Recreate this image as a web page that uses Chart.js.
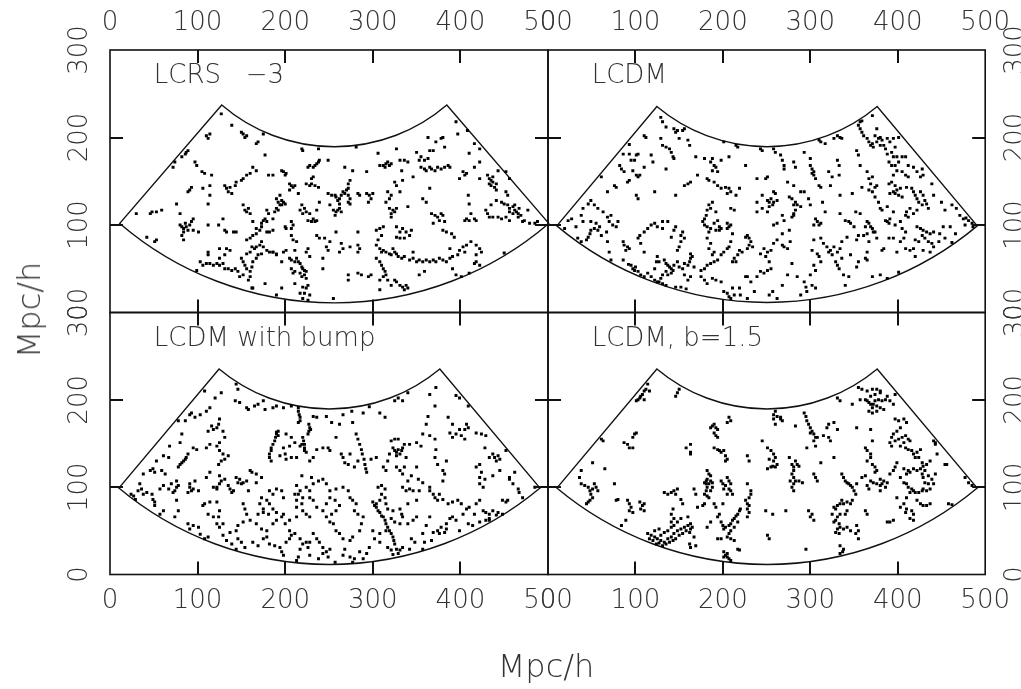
<!DOCTYPE html>
<html><head><meta charset="utf-8">
<script src="https://cdn.jsdelivr.net/npm/chart.js@4.4.1/dist/chart.umd.min.js"></script>
<style>
html,body{margin:0;padding:0;background:#fff;}
#wrap{position:relative;width:1021px;height:689px;overflow:hidden;background:#fff;}
#wrap canvas{position:absolute;left:0;top:0;}
.axt{position:absolute;font-family:'DejaVu Sans',sans-serif;font-weight:200;font-size:32px;color:#333;white-space:nowrap;line-height:1;}
</style></head><body>
<div id="wrap">
<canvas id="c0" width="1021" height="689"></canvas>
<canvas id="c1" width="1021" height="689"></canvas>
<canvas id="c2" width="1021" height="689"></canvas>
<canvas id="c3" width="1021" height="689"></canvas>
<div class="axt" id="xt" style="left:546px;top:666px;transform:translate(-50%,-50%);">Mpc/h</div>
<div class="axt" id="yt" style="left:29px;top:310px;transform:translate(-50%,-50%) rotate(-90deg);">Mpc/h</div>
</div>
<script>
const xTickValues = [0,100,200,300,400,500];
const yTickValues = [0,100,200,300];
const panelTitles = ['LCRS   \u22123','LCDM','LCDM with bump','LCDM, b=1.5'];

// survey wedge outlines (data units): centre, inner/outer radius, half opening angle (deg)
const wedgeLCRS = {cx:256, cy:386.5, rIn:375.5, rOut:197, halfAngle:40.7};
const wedgeSim  = {cx:250.5, cy:385.5, rIn:374, rOut:196, halfAngle:40};

const lcrsPoints = [[127,227],[110,202],[114,204],[112,199],[139,214],[152,204],[154,200],[150,206],[156,202],[167,193],[169,195],[175,204],[177,180],[89,185],[87,183],[86,181],[82,178],[72,166],[74,172],[97,172],[99,168],[105,161],[108,159],[116,157],[114,145],[93,143],[91,140],[89,138],[106,142],[114,134],[112,124],[76,124],[80,113],[59,117],[53,115],[48,115],[46,113],[30,113],[42,86],[53,83],[51,81],
[80,100],[82,98],[84,96],[86,102],[87,98],[91,100],[93,104],[95,107],[95,94],[84,92],[82,88],[84,83],[89,94],[101,92],[112,100],[124,100],[129,107],[131,94],[133,92],[141,92],[144,92],
[152,123],[154,117],[156,115],[158,119],[160,113],[163,104],[173,102],[175,105],[177,107],[179,104],[167,96],[171,94],[173,98],[160,85],[156,83],[163,88],[167,90],[179,92],[182,92],[186,94],
[162,75],[165,73],[167,75],[171,77],[160,69],[156,67],[173,81],[175,75],[179,71],[182,69],[186,69],[190,67],[173,67],[169,66],[167,62],[163,58],[162,52],[160,47],[160,41],[158,37],[162,28],
[150,62],[152,58],[154,54],[156,50],[152,43],[148,41],[146,47],[143,50],[139,48],[135,50],[131,50],[129,56],[125,54],[122,56],[118,54],[114,56],[110,56],[106,54],[103,58],[99,48],[112,69],[112,66],[133,73],[137,71],[125,73],[131,66],[125,62],
[205,62],[207,60],[211,58],[213,62],[215,58],[217,56],[219,52],[220,50],[222,48],[224,47],[222,43],[219,41],[217,45],[224,39],[226,31],[224,28],[220,29],[228,20],[226,14],[222,22],[211,47],[207,50],[209,45],[196,58],[190,66],[186,69],[198,69],[201,71],[211,71],[226,73],[224,69],[228,64],[211,33],[196,28],[190,20],[177,33],[163,28],[217,22],[220,16],[255,16],
[243,62],[243,50],[249,71],[247,75],[251,81],[236,88],[239,85],[245,85],[258,92],[207,88],[209,83],[213,81],[207,104],[209,100],[207,96],[200,98],[201,96],
[190,130],[192,126],[194,123],[196,128],[190,119],[188,115],[192,117],[198,126],[194,134],[196,123],[200,124],[179,117],[181,113],[186,107],
[198,161],[200,157],[201,159],[196,162],[186,157],[181,157],[167,162],[163,166],[160,159],[156,157],[152,153],[150,151],[144,149],[143,145],[137,143],[133,142],[131,145],[135,138],[139,136],
[205,147],[207,145],[209,143],[211,145],[205,140],[215,136],[219,123],[217,117],[222,119],[224,115],[220,113],[228,113],[232,107],[226,105],[230,104],[234,104],[236,105],
[224,147],[228,145],[230,147],[234,145],[238,143],[232,155],[230,153],[226,166],[228,168],[232,166],[236,170],[238,172],[239,174],[234,168],[219,187],[220,185],[238,187],[249,174],
[249,136],[253,134],[257,134],[258,132],[262,130],[264,134],[260,128],[262,124],[262,119],[260,117],[258,115],[264,115],[257,111],[255,117],[239,126],[236,117],[251,123],
[266,138],[268,136],[270,140],[272,134],[274,130],[272,126],[274,124],[272,142],[272,147],[274,151],[277,162],[268,166],[281,189],[283,136],[285,134],[293,136],[296,134],[300,136],[298,130],[295,126],[293,161],[283,92],[264,79],[262,69],[266,73],[274,75],[283,77],[285,73],[283,69],[272,43],[272,37],[283,45],[287,43],[295,41],[298,43],
[306,182],[308,168],[312,168],[314,166],[315,170],[317,172],[319,168],[321,170],[327,187],[331,174],[336,174],[340,172],[333,162],[327,145],[325,149],[334,151],[315,126],[319,130],[321,134],[317,138],[319,119],[321,113],[323,117],[325,115],[321,109],[327,119],[340,121],[346,155],
[350,183],[355,178],[359,174],[363,176],[365,166],[355,166],[359,164],[361,162],[367,164],[371,162],[374,166],[378,164],[382,166],[386,168],[388,166],[353,174],[365,185],[369,185],[363,200],[372,195],[378,199],[382,189],[380,200],[395,218],[397,204],[408,208],
[410,182],[416,193],[422,187],[422,172],[416,166],[407,159],[403,161],[431,157],[433,153],[435,151],[437,149],[435,145],[439,143],[441,140],[437,155],[433,147],[441,147],[443,162],[452,138],[454,134],
[441,128],[447,126],[450,124],[454,123],[456,119],[460,121],[462,117],[464,115],[466,113],[460,113],[456,115],[462,123],[467,119],[466,109],[469,111],[477,117],[473,105],[479,102],[488,104],[485,102],[471,104],
[410,124],[409,134],[412,113],[407,107],[405,105],[410,105],[416,107],[418,105],[429,117],[431,113],[433,109],[437,109],[443,109],[447,107],[452,109],[456,105],[435,123],
[367,113],[371,111],[374,109],[376,105],[378,113],[380,94],[384,92],[390,90],[393,86],[369,102],[357,130],[361,126],[344,94],[338,92],[334,96],[331,92],[327,86],[331,85],[336,85],[342,88],[327,98],
[304,94],[308,96],[312,98],[310,88],[306,83],[304,77],[308,73],[310,69],[312,71],[315,69],[319,67],[321,66],[323,73],[325,69],[327,67],[329,64],[333,62],[336,64],
[342,60],[346,62],[350,58],[353,60],[357,58],[361,60],[365,58],[369,60],[372,58],[376,62],[380,60],[384,58],[388,62],[391,64],[346,69],
[388,73],[399,71],[403,75],[407,77],[412,81],[418,77],[422,73],[424,69],[418,66],[418,58],[416,56],[405,69],[397,66],[391,50],[395,43],[401,41],[410,45],[422,54],[450,68],
[304,62],[308,58],[310,54],[312,50],[314,47],[315,43],[312,41],[308,37],[317,37],[321,31],[325,37],[327,35],[331,31],[334,29],[338,31],[340,28],[336,26],[353,43],[359,47],[308,26],[382,104],[380,111],[399,153],[405,157],[365,142],[331,138],[452,161],[456,153],[422,153]];

const lcdmPoints = [[129,223],[131,218],[110,202],[112,200],[135,212],[144,210],[146,206],[148,208],[154,208],[156,210],[150,199],[129,199],[131,191],[135,189],[139,187],[141,183],[143,178],[144,176],[162,191],[160,197],[93,192],[93,181],[95,174],[99,174],[101,180],[103,181],[86,181],[82,168],[84,164],[87,161],[97,162],[101,157],[103,155],[105,157],[110,166],[93,151],[91,149],[76,145],[78,143],[68,138],[61,155],[135,164],[118,180],[120,172],[101,134],[103,130],[122,138],[146,134],[156,145],[160,147],[163,149],
[171,157],[169,178],[179,176],[186,172],[190,168],[188,162],[194,161],[192,166],[188,176],[198,174],[207,178],[182,153],[184,151],[190,149],[194,145],[198,142],[203,143],[207,142],[209,138],[205,136],[226,168],[217,189],[215,191],[201,195],[243,187],[245,185],[258,187],[260,183],
[266,180],[268,174],[270,168],[270,164],[281,172],[283,166],[293,183],[300,176],[300,168],[302,164],[304,161],[304,157],[306,153],[302,159],[310,197],[312,195],[317,193],[327,199],[331,202],[334,200],[336,199],[321,161],[325,155],[333,157],[331,174],[333,168],[310,145],[312,143],[323,145],[239,153],[251,155],[249,153],[274,149],[281,145],[289,138],[293,138],
[258,138],[260,136],[255,130],[251,128],[253,126],[258,126],[262,128],[257,123],[253,121],[251,115],[245,134],[239,126],[276,132],[279,130],[283,126],[281,123],[285,123],[289,121],[283,117],[281,113],[279,109],[270,105],[268,111],[298,130],[300,123],[306,107],[308,104],[304,100],[310,100],[312,102],[314,126],[317,115],
[334,134],[348,136],[359,143],[367,140],[371,138],[374,132],[378,126],[380,119],[382,117],[388,121],[386,105],[388,104],[390,102],[391,107],[395,115],[397,100],[334,113],[340,105],[344,104],[346,102],[350,98],[352,115],[357,113],[365,104],[367,102],[369,98],[371,96],[374,92],[363,98],[365,90],[361,88],[355,88],[353,83],[367,153],[369,147],[374,143],[376,145],[371,155],[357,168],[365,161],
[357,218],[359,219],[371,225],[355,214],[357,210],[359,206],[361,202],[365,199],[367,195],[369,191],[371,193],[372,189],[376,195],[378,199],[380,200],[382,197],[384,191],[386,187],[374,202],[376,210],[380,191],[388,199],[391,195],[395,199],[397,189],[393,183],[395,178],[399,178],[388,181],[390,172],[393,168],[397,168],[401,172],[405,178],[409,178],[401,200],[353,185],[355,180],
[412,168],[418,166],[422,161],[426,155],[412,155],[409,157],[405,161],[399,162],[395,157],[393,149],[397,145],[399,140],[397,136],[395,138],[401,134],[403,142],[391,136],[390,147],[405,132],
[410,143],[416,142],[418,138],[420,134],[422,130],[424,126],[426,138],[429,134],[431,128],[433,124],[435,119],[428,123],[422,117],[418,113],[414,119],[410,115],[409,111],[412,109],
[439,147],[441,134],[450,126],[454,117],[462,123],[467,119],[471,111],[478,108],[481,105],[485,102],[486,98],[477,100],[475,107],[429,157],[428,164],
[422,98],[426,96],[429,94],[433,92],[437,90],[441,92],[428,88],[431,85],[435,81],[439,79],[424,81],[420,83],[418,73],[429,71],[437,69],[441,75],[447,81],[454,85],[448,90],[452,98],[460,98],[466,90],[462,80],
[403,104],[405,96],[409,92],[407,85],[403,81],[409,73],[399,69],[395,85],[390,85],[384,73],[382,71],[376,85],[372,92],[367,81],[365,69],[363,62],[365,60],[371,41],[380,43],[388,39],[401,46],[414,71],[420,64],
[342,86],[336,81],[334,73],[331,69],[327,75],[323,71],[325,66],[329,58],[331,54],[333,50],[336,62],[338,43],[340,31],[344,41],[353,52],[355,58],[346,66],
[312,85],[315,79],[319,75],[321,69],[304,83],[302,71],[308,67],[310,64],[312,58],[304,54],[306,48],[300,43],[302,31],[306,28],[293,35],[296,24],[289,20],[295,29],[285,41],[279,56],[274,43],[268,31],[262,16],[257,24],[253,20],
[277,81],[274,73],[270,75],[268,77],[262,83],[258,79],[255,71],[251,69],[247,73],[243,67],[249,64],[253,58],[255,50],[251,48],[247,45],[243,47],[239,41],[236,24],[232,35],[228,41],[226,41],
[228,88],[230,85],[232,81],[230,77],[234,75],[228,73],[226,86],[222,69],[219,71],[217,66],[213,62],[211,58],[215,58],[207,75],[258,100],[262,102],[268,90],[276,94],[281,111],[239,115],[245,119],
[211,90],[209,81],[205,73],[201,69],[198,66],[194,60],[190,58],[186,56],[182,54],[179,50],[175,48],
[205,102],[207,98],[209,100],[205,96],[198,96],[196,94],[192,94],[186,96],[184,92],[182,98],[179,100],[177,104],[179,107],[181,111],[182,117],[184,123],[186,119],[188,126],[192,115],[194,105],[190,102],[196,98],[213,117],[215,134],[219,142],[209,119],[182,85],[186,79],[184,73],[190,69],[188,66],
[34,85],[38,81],[44,83],[46,86],[48,90],[49,94],[53,96],[57,94],[59,98],[61,88],[67,92],[68,81],[70,104],[68,109],[72,111],[63,115],[57,119],[53,123],[49,128],[46,124],[40,119],[38,111],[40,104],[49,104],[55,102],[23,105],[27,107],[32,98],[19,96],
[74,100],[78,98],[80,104],[86,81],[87,77],[91,75],[93,73],[89,71],[86,60],[92,55],[100,52],[95,54],[97,50],[99,48],[103,47],[106,43],[110,41],[114,45],[118,41],[122,50],[124,58],[127,58],[125,64],[110,69],[106,79],[103,85],[105,88],[110,92],[114,96],[118,100],[122,102],[125,98],[131,96],[131,104],[137,104],
[133,60],[135,56],[137,54],[139,52],[141,50],[143,48],[135,47],[131,43],[129,39],[127,35],[137,43],[141,45],[144,54],[148,58],[150,52],[154,50],[156,56],[160,54],[162,58],[163,62],[165,64],[163,67],[167,52],[156,43],[160,37],[163,41],[152,29],[158,27],[146,29],[148,71],[150,75],[152,81],[156,85],[152,88],[154,92],[146,98],[144,94],[141,86],
[175,41],[179,37],[182,33],[188,39],[192,37],[198,35],[201,24],[205,22],[207,18],[211,28],[213,20],[219,28],[220,20],[228,16],[209,16],[70,69],[72,60],[125,35],[131,33],[135,31],[122,37]];

const bumpPoints = [[108,210],[127,208],[144,218],[146,212],[143,199],[148,197],[156,191],[158,189],[165,193],[169,195],[175,199],[177,189],[186,191],[190,193],[198,191],[207,193],
[120,202],[114,191],[110,187],[103,183],[97,180],[91,183],[93,185],[86,176],[78,176],
[125,178],[124,172],[122,168],[118,166],[116,170],[112,164],[129,164],[131,157],[125,151],[122,147],[114,149],[110,145],[125,142],[129,138],[131,132],[135,136],[127,130],[124,126],
[82,161],[80,151],[68,147],[61,136],[67,134],[95,145],[99,143],[89,138],[87,134],[86,132],[84,130],[82,128],[80,126],[78,123],
[53,130],[49,121],[46,119],[51,117],[59,119],[63,115],[38,115],[34,104],[36,98],[32,96],[27,90],[24,92],[29,86],[38,92],[42,94],[48,92],[49,86],[51,83],[51,79],[57,98],[61,102],[67,98],[72,94],[74,96],[76,100],[78,102],[70,104],[76,107],
[91,100],[93,96],[95,98],[101,96],[89,94],[91,104],[97,107],[110,111],[114,117],[118,100],[122,98],[125,104],[127,107],[131,109],[125,113],[122,100],
[61,73],[57,69],[74,66],[78,73],[76,85],[89,58],[95,56],[101,54],[91,52],[103,46],[108,41],[112,43],[106,79],[108,81],[114,83],[122,83],[112,69],[118,66],[124,66],[125,73],
[135,102],[137,98],[139,94],[141,96],[144,111],[146,105],[148,109],[150,104],[152,105],[156,107],[160,119],[162,117],[167,115],[173,111],[167,105],[158,96],[152,81],[154,75],[156,69],[160,62],[152,60],[146,56],[144,50],[146,41],[150,37],[154,31],[144,29],[139,35],[133,39],[129,45],[137,48],[129,58],[125,54],[122,58],
[169,69],[175,71],[181,69],[190,71],[198,69],[196,66],[190,62],[186,58],[179,50],[173,52],[167,58],[163,37],[169,33],[175,41],[179,43],[182,35],[188,33],[194,31],[196,26],[198,22],[201,37],[205,41],[207,45],[211,47],[217,41],[220,35],[224,37],[226,31],[228,37],[217,29],[215,20],[213,16],[228,22],[238,18],[243,24],[251,29],
[215,191],[215,187],[216,183],[217,180],[217,176],[215,174],
[192,164],[190,161],[189,157],[188,153],[186,149],[184,145],[184,142],[182,138],[182,134],[184,130],[190,163],[192,159],
[227,172],[228,168],[227,164],[226,161],[229,166],
[220,157],[221,153],[222,149],[222,145],[222,142],[224,140],[219,149],[217,147],
[201,161],[207,157],[211,151],[205,147],[198,145],[200,138],[194,136],[201,132],[207,134],[213,134],[236,143],[243,145],[251,142],[232,134],[228,130],
[236,180],[232,181],[247,181],[253,174],[262,172],[266,183],[277,174],[276,187],[289,185],[296,192],[308,185],[314,180],[325,199],[329,202],[334,199],[340,208],
[281,161],[283,155],[285,149],[287,143],[288,138],[290,132],[291,126],[292,121],[293,117],
[258,157],[249,145],[264,138],[274,138],[266,134],[268,128],[272,126],[279,123],[283,130],[298,132],[304,134],[312,123],[315,119],[317,130],
[321,153],[325,155],[329,155],[323,145],[325,142],[327,140],[329,143],[331,138],[333,142],[334,145],[327,136],[319,138],[336,149],
[342,149],[350,151],[355,147],[338,134],[336,123],[331,119],[327,123],[334,115],[340,107],[344,113],[350,123],[352,109],[357,105],[365,100],[353,96],
[363,181],[365,206],[372,214],[371,193],[361,172],[357,161],[365,159],[371,155],[372,143],[371,134],[374,126],[380,119],[384,130],[386,180],[388,162],[391,157],[395,161],[399,166],[401,159],[405,166],[407,172],[409,168],[405,155],[399,202],[409,193],[391,172],[395,205],
[418,162],[424,161],[429,159],[428,145],[437,138],[439,134],[443,136],[445,132],[441,130],[433,134],[422,126],[418,123],[424,117],[422,111],[428,109],[422,104],[426,100],[437,113],[445,119],[452,142],[456,111],[462,117],[460,104],[466,98],[467,94],[456,109],[485,100],[471,88],
[365,96],[369,92],[371,88],[374,85],[376,92],[380,86],[386,81],[391,83],[397,85],[401,81],[407,75],[410,77],[416,69],[418,81],[422,85],[426,73],[429,71],[433,69],[437,73],[443,71],[448,69],[452,83],[441,68],[433,64],[422,60],[414,56],[409,58],[403,69],[395,62],[391,66],[388,64],[384,58],[378,54],[374,50],[369,48],[376,47],[382,48],[384,52],[399,50],[365,66],[361,56],[357,47],[359,37],[357,29],[367,39],
[334,100],[338,96],[342,98],[346,96],[350,85],[340,81],[331,75],[333,69],[334,66],[340,58],[346,62],[350,66],[344,41],[348,37],[342,29],
[300,83],[302,79],[304,77],[306,73],[308,71],[310,67],[312,66],[314,62],[315,58],[317,54],[319,50],[321,47],[323,43],[324,39],[325,35],
[306,100],[310,102],[314,98],[310,92],[314,88],[308,85],[304,81],[315,81],[317,75],[323,73],[321,64],[325,60],[331,58],[315,50],[308,47],[300,50],[302,41],[308,37],[317,31],[321,28],[327,29],[331,28],[334,31],[329,24],[323,23],
[266,100],[272,96],[274,88],[277,85],[281,81],[279,73],[283,69],[289,66],[287,58],[285,50],[277,43],[274,39],[266,41],[262,47],[258,50],[255,58],[251,60],[247,66],[253,69],[258,73],[262,79],[257,85],[251,88],[247,81],[243,73],[236,77],[232,85],[228,88],[220,88],[219,81],[213,85],[215,92],[224,100],[228,96],[232,104],[238,107],[243,109],[247,104],[251,96],[258,98],
[219,113],[230,111],[213,102],[217,96],[211,92],[213,77],[220,73],[224,69],[228,66],[213,66],[205,62],[200,58],[205,50],
[182,96],[186,92],[190,98],[196,96],[198,88],[182,81],[179,85],[173,88],[171,81],[175,75],[186,75],
[232,47],[236,41],[239,37],[243,31],[247,26],[249,20],[257,14],[266,22],[274,20],[279,18],[285,26],[296,31],[293,24],[289,18],[277,14],[268,29],
[380,107],[382,115],[448,85],[454,85],[433,62],[429,62]];

const biasPoints = [[114,218],[112,212],[110,210],[108,206],[106,204],[105,202],[103,200],[101,199],[110,200],[116,210],[150,212],[148,208],[146,204],[101,162],[99,161],[97,157],[87,151],[91,149],[93,145],[97,145],[61,155],[63,153],[51,128],[65,121],
[38,119],[36,111],[38,104],[42,102],[46,100],[48,96],[49,92],[51,88],[48,85],[46,83],[44,81],[53,104],[55,100],[51,98],[57,96],[76,104],[80,86],[78,85],
[91,85],[93,81],[95,77],[93,73],[97,71],[105,83],[108,79],[110,81],[106,75],[110,73],[89,62],[84,56],
[114,47],[118,45],[122,43],[125,41],[129,39],[133,37],[137,41],[141,43],[144,47],[148,50],[152,52],[156,54],[160,56],[163,52],[162,48],[158,50],[154,47],[150,45],[146,41],[143,39],[139,37],[135,35],[131,33],[127,36],[124,35],[120,39],[129,45],[133,48],[137,50],[141,54],[144,56],[148,60],[152,64],[144,64],[141,60],[160,66],[163,58],[165,54],[167,43],[162,35],[163,31],[169,33],[127,52],[122,50],[116,41],
[133,94],[137,92],[141,94],[144,96],[148,98],[146,92],[152,86],[154,81],[143,75],[141,69],
[158,145],[163,149],[163,140],[163,138],[186,168],[188,170],[190,172],[192,168],[190,162],[192,159],[194,157],[194,166],[207,180],[209,176],[205,174],
[190,145],[194,143],[196,142],[198,140],[201,142],[203,136],[205,132],[203,130],[228,136],[230,130],
[182,119],[184,115],[186,113],[182,109],[181,107],[179,105],[181,104],[184,104],[186,107],[188,105],[182,100],[181,96],[179,92],[182,90],[184,88],[186,96],[188,100],
[167,98],[169,92],[179,81],[177,79],[171,77],
[198,107],[200,104],[203,102],[205,111],[207,107],[209,104],[207,98],[209,96],[211,92],[205,92],[201,98],
[190,81],[192,77],[196,69],[194,66],[198,60],[200,56],[201,52],[203,54],[207,56],[209,58],[211,62],[213,64],[215,67],[217,69],[219,73],[220,75],[217,60],[213,54],[209,50],[207,47],[205,43],[209,41],[213,39],[217,29],[219,28],[198,41],[194,41],[186,60],[182,54],[200,81],
[201,26],[203,22],[205,20],[207,18],[201,20],[209,16],[205,24],
[226,85],[228,81],[230,79],[228,75],[230,71],[228,66],[230,88],[232,92],[228,104],[232,96],
[249,73],[257,69],[272,73],[251,45],[253,41],
[245,153],[251,145],[255,142],[258,138],[260,134],[258,130],[262,126],[257,124],[255,123],[251,121],[260,123],[253,132],
[260,187],[258,183],[262,181],[266,180],[268,176],[258,178],[260,172],[266,178],
[276,134],[279,126],[281,123],[283,130],[285,126],[287,124],[281,119],[279,115],[281,111],[283,107],[281,104],[279,100],[281,96],[287,107],[291,105],[277,107],
[283,170],[293,185],[295,181],[296,176],[298,172],[300,168],[302,164],[304,161],[306,157],[304,153],[308,157],[300,162],[306,147],[296,145],
[315,159],[321,157],[323,153],[319,168],[321,172],[327,174],[331,166],[327,134],[312,128],[304,115],[306,111],[308,107],
[298,73],[302,69],[304,62],[300,66],[295,29],
[336,115],[338,111],[340,107],[342,105],[344,104],[346,102],[348,100],[350,96],[352,92],[353,104],
[327,77],[329,75],[331,79],[334,81],[336,85],[338,81],[342,83],[346,81],[348,85],[342,73],[340,69],[334,69],[331,66],[329,62],[333,58],[334,54],[331,52],[329,48],[333,47],[338,52],[342,54],[346,50],[353,56],[355,50],[352,47],[355,41],[334,33],[338,29],[334,24],[337,26],[325,69],[327,60],
[363,73],[365,69],
[365,102],[367,98],[369,107],[372,105],[376,104],[380,102],[384,107],[388,105],[386,100],[380,96],[374,117],[376,119],[380,109],[382,104],[363,113],[359,111],
[363,145],[365,142],[369,138],[369,134],[365,130],[371,126],[374,123],[371,153],[369,166],[353,168],
[355,214],[359,212],[365,210],[371,212],[376,212],[380,208],[374,206],[369,204],[363,200],[365,199],[367,197],[369,195],[372,195],[376,193],[380,191],[384,189],[371,191],[367,187],[378,200],[382,199],[386,200],[391,199],[395,195],[397,206],[388,204],[357,200],[371,185],[376,187],[380,210],[374,199],[331,202],[334,199],[348,195],
[397,178],[401,176],[407,178],[410,174],[403,168],[399,164],[395,161],[393,157],[391,151],[393,147],[397,153],[401,155],[405,157],[409,159],[412,155],[414,153],[407,151],[403,147],[409,145],[412,143],[416,142],[418,138],[420,134],[422,140],[426,143],[424,134],[428,128],[429,124],[433,126],[437,130],[431,119],[426,121],[422,119],[418,121],[414,117],[412,119],[410,115],[407,121],[399,128],[397,123],[395,119],[391,115],[403,111],[407,105],[410,104],[412,100],[416,98],[418,96],[420,94],[424,94],[428,96],[429,98],[433,96],[437,98],[441,104],[435,104],[431,105],[429,111],[428,115],[435,113],[439,109],[443,115],[445,138],[443,149],[441,153],[454,126],[414,94],[410,88],[407,81],[410,75],[416,73],[418,69],[409,71],[403,77],[399,88],[422,85],[426,81],[429,79],[433,79],[437,81],[418,62],[414,64],[395,62],[391,60],[388,60],
[456,126],[443,151],[477,111],[481,105],[485,102],[458,81],[462,80]];

// ---- layout (pixels) ----
const W = 1021, H = 689;
const PX_L = 110, PX_M = 548, PX_R = 985.5, PX_T = 50, PX_MID = 312.5, PX_B = 574.5;
const FONT = {family:"'DejaVu Sans', sans-serif", size:26, weight:'200'};
const INK = '#111';
const TICK_LEN = 13;

const decor = {
  id:'decor',
  beforeDatasetsDraw(chart, args, o){
    const {ctx, scales:{x, y}} = chart;
    const w = o.wedge;
    const sx = Math.abs(x.getPixelForValue(1) - x.getPixelForValue(0));
    const sy = Math.abs(y.getPixelForValue(1) - y.getPixelForValue(0));
    const cx = x.getPixelForValue(w.cx), cy = y.getPixelForValue(w.cy);
    const a0 = (90 - w.halfAngle) * Math.PI / 180, a1 = (90 + w.halfAngle) * Math.PI / 180;
    ctx.save();
    ctx.strokeStyle = INK; ctx.lineWidth = 1.4;
    ctx.beginPath();
    ctx.ellipse(cx, cy, w.rOut * sx, w.rOut * sy, 0, a0, a1);
    ctx.ellipse(cx, cy, w.rIn * sx, w.rIn * sy, 0, a1, a0, true);
    ctx.closePath();
    ctx.stroke();
    ctx.restore();
  },
  afterDraw(chart, args, o){
    const {ctx, chartArea:a, scales:{x, y}} = chart;
    ctx.save();
    ctx.strokeStyle = INK;
    ctx.lineWidth = 2;
    ctx.beginPath();
    xTickValues.forEach(v => {
      if (v === xTickValues[0] || v === xTickValues[xTickValues.length - 1]) return;
      const p = Math.round(x.getPixelForValue(v));
      ctx.moveTo(p, a.top); ctx.lineTo(p, a.top + TICK_LEN);
      ctx.moveTo(p, a.bottom); ctx.lineTo(p, a.bottom - TICK_LEN);
    });
    yTickValues.forEach(v => {
      if (v === yTickValues[0] || v === yTickValues[yTickValues.length - 1]) return;
      const p = Math.round(y.getPixelForValue(v));
      ctx.moveTo(a.left, p); ctx.lineTo(a.left + TICK_LEN, p);
      ctx.moveTo(a.right, p); ctx.lineTo(a.right - TICK_LEN, p);
    });
    ctx.stroke();
    ctx.lineWidth = 1.6;
    ctx.strokeRect(a.left, a.top, a.right - a.left, a.bottom - a.top);
    ctx.fillStyle = '#333';
    ctx.font = `${FONT.weight} ${FONT.size}px ${FONT.family}`;
    ctx.textAlign = 'left'; ctx.textBaseline = 'middle';
    ctx.fillText(o.title, x.getPixelForValue(o.titleAt[0]), y.getPixelForValue(o.titleAt[1]));
    ctx.restore();
  }
};

const panels = [
  {id:'c0', pts:lcrsPoints, wedge:wedgeLCRS, title:panelTitles[0], left:PX_L, right:PX_M, top:PX_T, bottom:PX_MID, xPos:'top', yPos:'left'},
  {id:'c1', pts:lcdmPoints, wedge:wedgeSim, title:panelTitles[1], left:PX_M, right:PX_R, top:PX_T, bottom:PX_MID, xPos:'top', yPos:'right'},
  {id:'c2', pts:bumpPoints, wedge:wedgeSim, title:panelTitles[2], left:PX_L, right:PX_M, top:PX_MID, bottom:PX_B, xPos:'bottom', yPos:'left'},
  {id:'c3', pts:biasPoints, wedge:wedgeSim, title:panelTitles[3], left:PX_M, right:PX_R, top:PX_MID, bottom:PX_B, xPos:'bottom', yPos:'right'}
];

panels.forEach(p => {
  const padding = {
    left: p.yPos === 'left' ? 0 : p.left,
    right: p.yPos === 'right' ? 0 : W - p.right,
    top: p.xPos === 'top' ? 0 : p.top,
    bottom: p.xPos === 'bottom' ? 0 : H - p.bottom
  };
  const yAxisWidth = p.yPos === 'left' ? p.left : W - p.right;
  const xAxisHeight = p.xPos === 'top' ? p.top : H - p.bottom;
  new Chart(document.getElementById(p.id), {
    type: 'scatter',
    data: { datasets: [{
      data: p.pts.map(([x, y]) => ({x, y})),
      pointStyle: 'rect', pointRadius: 2.1, borderWidth: 0,
      backgroundColor: '#000', pointBackgroundColor: '#000'
    }]},
    options: {
      responsive: false, animation: false, devicePixelRatio: 1, events: [],
      layout: { padding },
      plugins: { legend: {display:false}, tooltip: {enabled:false},
        decor: { wedge: p.wedge, title: p.title, titleAt: [50, 269.5] } },
      scales: {
        x: {
          type: 'linear', position: p.xPos, min: 0, max: 500,
          afterBuildTicks: s => { s.ticks = xTickValues.map(v => ({value: v})); },
          afterFit: s => { s.height = xAxisHeight; },
          grid: {display:false, drawTicks:false}, border: {display:false},
          ticks: { font: FONT, color: '#333', padding: 11,
                   maxRotation: 0, minRotation: 0, autoSkip: false, callback: v => String(v) }
        },
        y: {
          type: 'linear', position: p.yPos, min: 0, max: 300,
          afterBuildTicks: s => { s.ticks = yTickValues.map(v => ({value: v})); },
          afterFit: s => { s.width = yAxisWidth; },
          grid: {display:false, drawTicks:false}, border: {display:false},
          ticks: { font: FONT, color: '#333', padding: p.yPos === 'left' ? 5 : 6,
                   minRotation: 90, maxRotation: 90, crossAlign: 'center', autoSkip: false,
                   callback: v => String(v) }
        }
      }
    },
    plugins: [decor]
  });
});
</script>
</body></html>
